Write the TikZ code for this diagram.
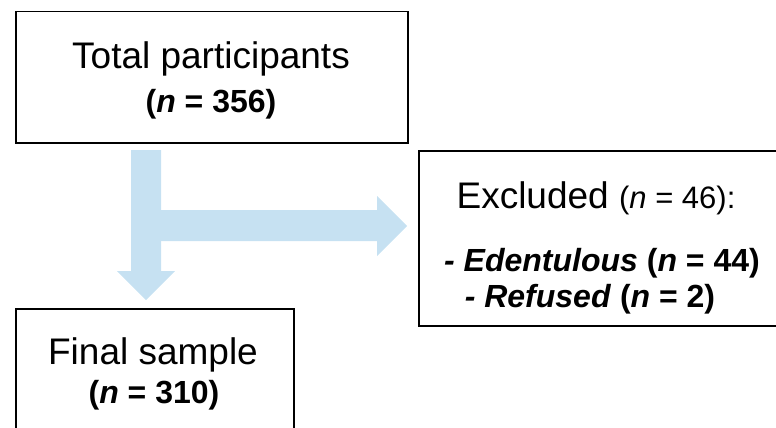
\documentclass[tikz,border=0pt]{standalone}
\usepackage{fontspec}
\setmainfont{Liberation Sans}
\definecolor{arrowblue}{RGB}{198,225,242}
\begin{document}
\begin{tikzpicture}[x=1pt,y=-1pt,
  box/.style={draw=black, line width=1.5pt, inner sep=0pt, anchor=north west},
  big/.style={font=\fontsize{37}{44}\selectfont, inner sep=0pt, anchor=base},
  boldtxt/.style={font=\fontsize{32}{38}\selectfont\bfseries, inner sep=0pt, anchor=base},
  fat/.style={fill=arrowblue, draw=none}]
\useasboundingbox (0,0) rectangle (776,428);
\clip (0,0) rectangle (776,428);
% boxes
\node[box, minimum width=392pt, minimum height=131pt] (topbox) at (15,11) {};
\node[box, minimum width=380pt, minimum height=175pt] (exclbox) at (418,150) {};
\node[box, minimum width=278pt, minimum height=140pt] (finalbox) at (15,308) {};
% block arrows
\fill[fat] (131,150) -- (161,150) -- (161,271) -- (175,271) -- (146,300) -- (117,271) -- (131,271) -- cycle;
\fill[fat] (160,210) -- (377,210) -- (377,196) -- (407,226) -- (377,256) -- (377,241) -- (160,241) -- cycle;
% texts
\node[big] (t1) at (211,69) {Total participants};
\node[boldtxt] (t2) at (211,112) {(\textit{n} = 356)};
\node[big] (e1) at (596,208) {Excluded {\fontsize{31}{37}\selectfont(\textit{n} = 46):}};
\node[boldtxt] (e2) at (602,271) {\textit{- Edentulous} (\textit{n} = 44)};
\node[boldtxt] (e3) at (590,307) {\textit{- Refused} (\textit{n} = 2)};
\node[big] (f1) at (153,364) {Final sample};
\node[boldtxt] (f2) at (154,403) {(\textit{n} = 310)};
\end{tikzpicture}
\end{document}
